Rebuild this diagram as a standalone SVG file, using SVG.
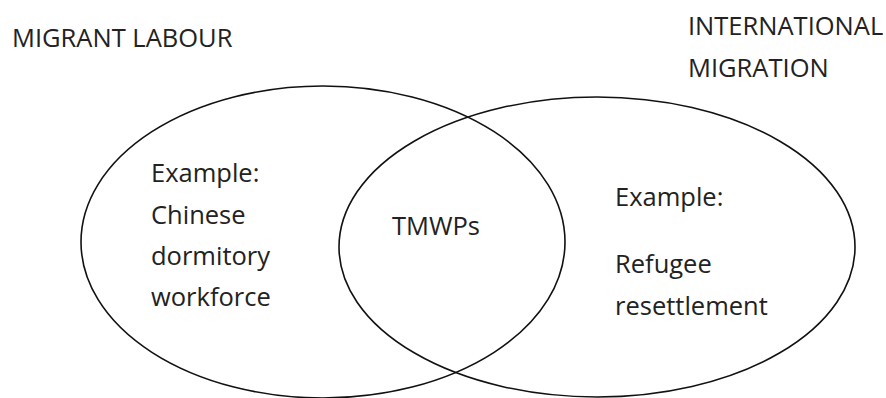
<svg xmlns="http://www.w3.org/2000/svg" width="886" height="398" viewBox="0 0 886 398">
<style>
.set{fill:none;stroke:#111;stroke-width:1.6}
.t{font-family:"Open Sans","Liberation Sans",sans-serif;font-size:25.5px;fill:#222}
</style>
<rect width="886" height="398" fill="#fff"/>
<g id="migrant-labour">
<ellipse class="set" cx="323" cy="242" rx="242" ry="156"/>
<text class="t" x="12" y="47">MIGRANT LABOUR</text>
<text class="t" x="151" y="182">Example:</text>
<text class="t" x="151" y="224">Chinese</text>
<text class="t" x="151" y="265">dormitory</text>
<text class="t" x="151" y="306">workforce</text>
</g>
<g id="international-migration">
<ellipse class="set" cx="597" cy="247" rx="258" ry="150"/>
<text class="t" x="688" y="35">INTERNATIONAL</text>
<text class="t" x="688" y="77">MIGRATION</text>
<text class="t" x="615" y="206">Example:</text>
<text class="t" x="615" y="273">Refugee</text>
<text class="t" x="615" y="315">resettlement</text>
</g>
<g id="overlap">
<text class="t" x="392" y="235">TMWPs</text>
</g>
<g id="connectors"></g>
</svg>
